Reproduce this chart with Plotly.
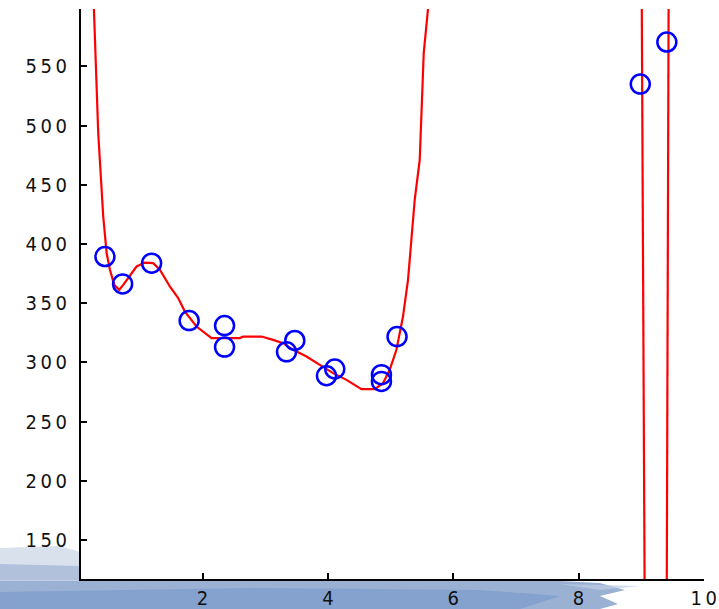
import plotly.graph_objects as go

# observed data points
pts_x = [0.442, 0.724, 1.187, 1.786, 2.351, 2.351, 3.340, 3.472, 3.978, 4.110, 4.855, 4.855, 5.104, 8.986, 9.410]
pts_y = [389.4, 366.3, 383.8, 335.3, 331.1, 312.9, 308.9, 318.5, 288.7, 294.4, 289.6, 283.9, 321.8, 535.1, 570.6]

# fitted curve (traced), segments separated by None
curve_x = [0.266, 0.335, 0.415, 0.469, 0.522, 0.590, 0.670, 0.734, 0.947, 1.080, 1.212, 1.319,
           1.478, 1.611, 1.718, 1.904, 2.144, 2.595, 2.648, 2.941, 3.126, 3.285, 3.445, 3.659,
           3.871, 4.083, 4.297, 4.536, 4.748, 4.880, 4.987, 5.094, 5.199, 5.279, 5.306, 5.386,
           5.466, 5.493, 5.530, 5.598, 5.61,
           None, 9.010, 9.055,
           None, 9.409, 9.438]
curve_y = [598.5, 493.7, 423.2, 392.3, 378.2, 365.5, 361.3, 365.5, 381.0, 384.3, 383.8, 378.2,
           364.1, 354.3, 342.9, 330.3, 320.5, 320.5, 321.8, 321.8, 319.0, 316.2, 310.6, 304.9,
           297.9, 290.9, 285.2, 277.4, 277.4, 282.4, 293.7, 310.6, 338.7, 369.7, 386.6, 437.3,
           471.1, 513.4, 561.3, 598.5, 606.0,
           None, 602.0, 112.0,
           None, 112.0, 602.0]

TS = "\u2009"  # thin space between digits
y_ticks = [150, 200, 250, 300, 350, 400, 450, 500, 550]
y_ticktext = [TS.join(str(v)) for v in y_ticks]
x_ticks = [2, 4, 6, 8, 10]
x_ticktext = [TS.join(str(v)) for v in x_ticks]

FONT = "DejaVu Sans Condensed, Liberation Sans Narrow, sans-serif"

fig = go.Figure()
fig.add_trace(go.Scatter(x=curve_x, y=curve_y, mode="lines",
                         line=dict(color="#ff0000", width=2.2), connectgaps=False,
                         hoverinfo="skip", showlegend=False))
fig.add_trace(go.Scatter(x=pts_x, y=pts_y, mode="markers",
                         marker=dict(symbol="circle-open", size=19, color="#0000ff",
                                     line=dict(width=2.5, color="#0000ff")),
                         showlegend=False))

W, H = 719, 609
L, R, T, B = 81, 704, 9, 579


def px(xp):
    return (xp - L) / (R - L)


def py(yp):
    return (B - yp) / (B - T)


def path(points):
    return "M " + " L ".join(f"{px(a):.4f},{py(b):.4f}" for a, b in points) + " Z"


shapes = [
    dict(type="path", xref="paper", yref="paper", layer="below", line=dict(width=0),
         fillcolor="rgba(185,200,222,0.55)",
         path=path([(0, 548), (60, 546), (80, 552), (80, 580), (0, 580)])),
    dict(type="path", xref="paper", yref="paper", layer="below", line=dict(width=0),
         fillcolor="rgba(150,172,208,0.6)",
         path=path([(0, 564), (80, 566), (80, 581), (0, 581)])),
    dict(type="path", xref="paper", yref="paper", layer="below", line=dict(width=0),
         fillcolor="#9ab1d4",
         path=path([(0, 581), (560, 581), (600, 583), (625, 590), (600, 596), (618, 604),
                    (600, 609), (0, 609)])),
    dict(type="path", xref="paper", yref="paper", layer="below", line=dict(width=0),
         fillcolor="rgba(120,150,200,0.6)",
         path=path([(0, 592), (250, 588), (480, 590), (560, 596), (520, 609), (0, 609)])),
    dict(type="path", xref="paper", yref="paper", layer="below", line=dict(width=0),
         fillcolor="rgba(190,205,228,0.7)",
         path=path([(560, 584), (640, 586), (600, 590)])),
]

fig.update_layout(
    width=W, height=H, autosize=False,
    margin=dict(l=L, r=W - R, t=T, b=H - B, pad=0, autoexpand=False),
    paper_bgcolor="white", plot_bgcolor="white",
    font=dict(family=FONT, size=20, color="#111111"),
    shapes=shapes,
    xaxis=dict(range=[0.06, 10.003], tickvals=x_ticks, ticktext=x_ticktext, automargin=False,
               showgrid=False, zeroline=False, showline=True, linecolor="black", linewidth=2,
               ticks="inside", ticklen=6, tickwidth=2, tickcolor="black",
               ticklabelstandoff=0),
    yaxis=dict(range=[117, 598.5], tickvals=y_ticks, ticktext=y_ticktext, automargin=False,
               showgrid=False, zeroline=False, showline=True, linecolor="black", linewidth=2,
               ticks="inside", ticklen=6, tickwidth=2, tickcolor="black",
               ticklabelstandoff=8),
)

fig.write_html("out.html", config={"displayModeBar": False},
               post_script="document.body.style.margin='0px';document.body.style.overflow='hidden';")
